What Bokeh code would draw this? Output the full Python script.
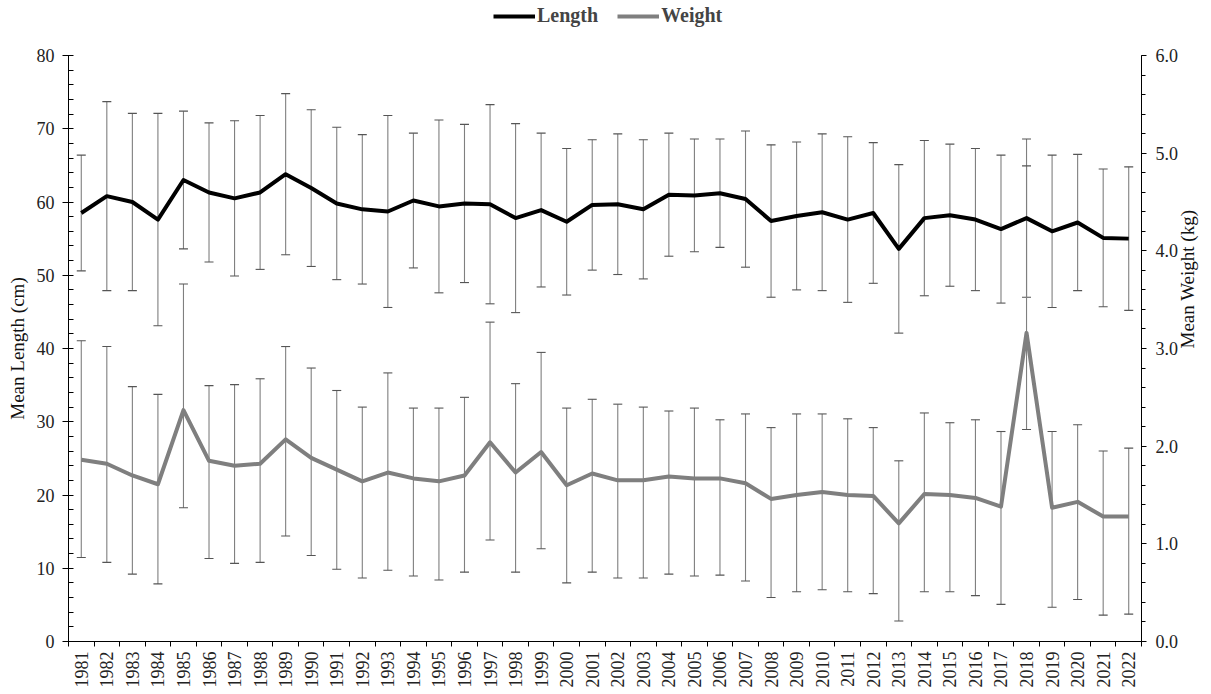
import math
from bokeh.plotting import figure
from bokeh.layouts import column
from bokeh.models import (Range1d, LinearAxis, FixedTicker, Whisker, TeeHead,
                          ColumnDataSource, Legend, LegendItem, NumeralTickFormatter,
                          BasicTickFormatter)
from bokeh.embed import file_html
from bokeh.resources import INLINE

years = list(range(1981, 2023))

length_mean = [58.5, 60.8, 60.0, 57.6, 63.0, 61.3, 60.5, 61.3, 63.8, 61.9,
               59.8, 59.0, 58.7, 60.2, 59.4, 59.8, 59.7, 57.8, 58.9, 57.3,
               59.6, 59.7, 59.0, 61.0, 60.9, 61.2, 60.4, 57.4, 58.1, 58.6,
               57.6, 58.5, 53.6, 57.8, 58.2, 57.6, 56.3, 57.8, 56.0, 57.2,
               55.1, 55.0]
length_sd = [7.9, 12.9, 12.1, 14.5, 9.4, 9.5, 10.6, 10.5, 11.0, 10.7,
             10.4, 10.2, 13.1, 9.2, 11.8, 10.8, 13.6, 12.9, 10.5, 10.0,
             8.9, 9.6, 9.5, 8.4, 7.7, 7.4, 9.3, 10.4, 10.1, 10.7,
             11.3, 9.6, 11.5, 10.6, 9.7, 9.7, 10.1, 10.8, 10.4, 9.3,
             9.4, 9.8]

weight_mean = [1.86, 1.82, 1.70, 1.61, 2.37, 1.85, 1.80, 1.82, 2.07, 1.88,
               1.76, 1.64, 1.73, 1.67, 1.64, 1.70, 2.04, 1.73, 1.94, 1.60,
               1.72, 1.65, 1.65, 1.69, 1.67, 1.67, 1.62, 1.46, 1.50, 1.53,
               1.50, 1.49, 1.21, 1.51, 1.50, 1.47, 1.38, 3.16, 1.37, 1.43,
               1.28, 1.28]
weight_upper = [3.08, 3.02, 2.61, 2.53, 3.66, 2.62, 2.63, 2.69, 3.02, 2.80,
                2.57, 2.40, 2.75, 2.39, 2.39, 2.50, 3.27, 2.64, 2.96, 2.39,
                2.48, 2.43, 2.40, 2.36, 2.39, 2.27, 2.33, 2.19, 2.33, 2.33,
                2.28, 2.19, 1.85, 2.34, 2.24, 2.27, 2.15, 4.87, 2.15, 2.22,
                1.95, 1.98]
weight_lower = [0.86, 0.81, 0.69, 0.59, 1.37, 0.85, 0.80, 0.81, 1.08, 0.88,
                0.74, 0.65, 0.73, 0.67, 0.63, 0.71, 1.04, 0.71, 0.95, 0.60,
                0.71, 0.65, 0.65, 0.69, 0.67, 0.68, 0.62, 0.45, 0.51, 0.53,
                0.51, 0.49, 0.21, 0.51, 0.51, 0.47, 0.38, 2.17, 0.35, 0.43,
                0.27, 0.28]

series_names = ["Length", "Weight"]

FONT = "Liberation Serif"
GRAY = "#7f7f7f"
LEN_COLOR = "black"
LEN_MAX, WT_MAX = 80, 6

src = ColumnDataSource(dict(
    x=years,
    lm=length_mean,
    lu=[m + s for m, s in zip(length_mean, length_sd)],
    ll=[m - s for m, s in zip(length_mean, length_sd)],
    wm=weight_mean,
    wu=weight_upper,
    wl=weight_lower,
))

# ---------------- legend strip (its own small figure above the chart) ----------------
lg = figure(width=1211, height=47, x_range=Range1d(0, 1), y_range=Range1d(0, 1),
            x_axis_location=None, y_axis_location=None,
            output_backend="svg", toolbar_location=None,
            min_border_left=0, min_border_right=0, min_border_top=0,
            min_border_bottom=0)
lg.grid.visible = False
lg.outline_line_color = None
# same series, outside this strip's view: only their legend swatches show
k_len = lg.line("x", "lm", source=src, line_color=LEN_COLOR, line_width=4)
k_wt = lg.line("x", "wm", source=src, line_color=GRAY, line_width=4)
legend = Legend(items=[LegendItem(label=series_names[0], renderers=[k_len]),
                       LegendItem(label=series_names[1], renderers=[k_wt])],
                orientation="horizontal", location=(425, 20),
                label_text_font=FONT, label_text_font_style="bold",
                label_text_font_size="20px", glyph_width=42, glyph_height=20,
                label_standoff=2, spacing=19, padding=0, margin=0,
                border_line_color=None, background_fill_alpha=0)
lg.add_layout(legend, "center")

# ---------------- main chart ----------------
p = figure(width=1211, height=643,
           x_range=Range1d(years[0] - 0.5, years[-1] + 0.5),
           y_range=Range1d(0, LEN_MAX),
           output_backend="svg", toolbar_location=None,
           min_border_left=68, min_border_right=70, min_border_top=8,
           min_border_bottom=47)
p.extra_y_ranges = {"w": Range1d(0, WT_MAX)}
p.xgrid.visible = False
p.ygrid.visible = False
p.outline_line_color = None

for up, lo, rng in (("lu", "ll", "default"), ("wu", "wl", "w")):
    wk = Whisker(base="x", upper=up, lower=lo, source=src, y_range_name=rng,
                 line_color=GRAY, line_width=1.1, level="underlay",
                 upper_head=TeeHead(size=9, line_color="#555555", line_width=1.1),
                 lower_head=TeeHead(size=9, line_color="#555555", line_width=1.1))
    p.add_layout(wk)

p.line("x", "lm", source=src, line_color=LEN_COLOR, line_width=4, line_join="round")
p.line("x", "wm", source=src, line_color=GRAY, line_width=4, y_range_name="w",
       line_join="round")

# x axis
xa = p.xaxis[0]
xa.ticker = FixedTicker(ticks=years,
                        minor_ticks=[y - 0.5 for y in years] + [years[-1] + 0.5])
xa.formatter = BasicTickFormatter(use_scientific=False)
xa.major_tick_out = 0
xa.major_tick_in = 0
xa.minor_tick_out = 5
xa.minor_tick_in = 0
xa.minor_tick_line_color = "black"
xa.major_label_orientation = math.pi / 2
xa.major_label_standoff = 5

# left axis
ya = p.yaxis[0]
ya.ticker = FixedTicker(ticks=list(range(0, LEN_MAX + 1, 10)),
                        minor_ticks=list(range(0, LEN_MAX + 1, 2)))
ya.axis_label = "Mean Length (cm)"
ya.major_tick_out = 6
ya.major_tick_in = 3
ya.minor_tick_out = 0
ya.minor_tick_in = 5
ya.minor_tick_line_color = "black"
ya.major_label_standoff = 8
ya.axis_label_standoff = 6

# right axis
ra = LinearAxis(y_range_name="w", axis_label="Mean Weight (kg)")
ra.ticker = FixedTicker(ticks=list(range(0, WT_MAX + 1)),
                        minor_ticks=[i / 5 for i in range(0, WT_MAX * 5 + 1)])
ra.formatter = NumeralTickFormatter(format="0.0")
ra.major_tick_out = 5
ra.major_tick_in = 0
ra.minor_tick_out = 4
ra.minor_tick_in = 0
ra.minor_tick_line_color = "black"
ra.major_label_standoff = 9
ra.axis_label_standoff = 6
if "axis_label_orientation" in ra.properties():
    ra.axis_label_orientation = math.pi / 2
p.add_layout(ra, "right")

for ax in (xa, ya, ra):
    ax.axis_line_color = "black"
    ax.major_tick_line_color = "black"
    ax.major_label_text_font = FONT
    ax.major_label_text_font_size = "18px"
    ax.major_label_text_color = "#222222"
    ax.axis_label_text_font = FONT
    ax.axis_label_text_font_size = "19px"
    ax.axis_label_text_font_style = "normal"
    ax.axis_label_text_color = "#111111"

layout = column(lg, p, spacing=0)
open("out.html", "w").write(file_html(layout, INLINE))
